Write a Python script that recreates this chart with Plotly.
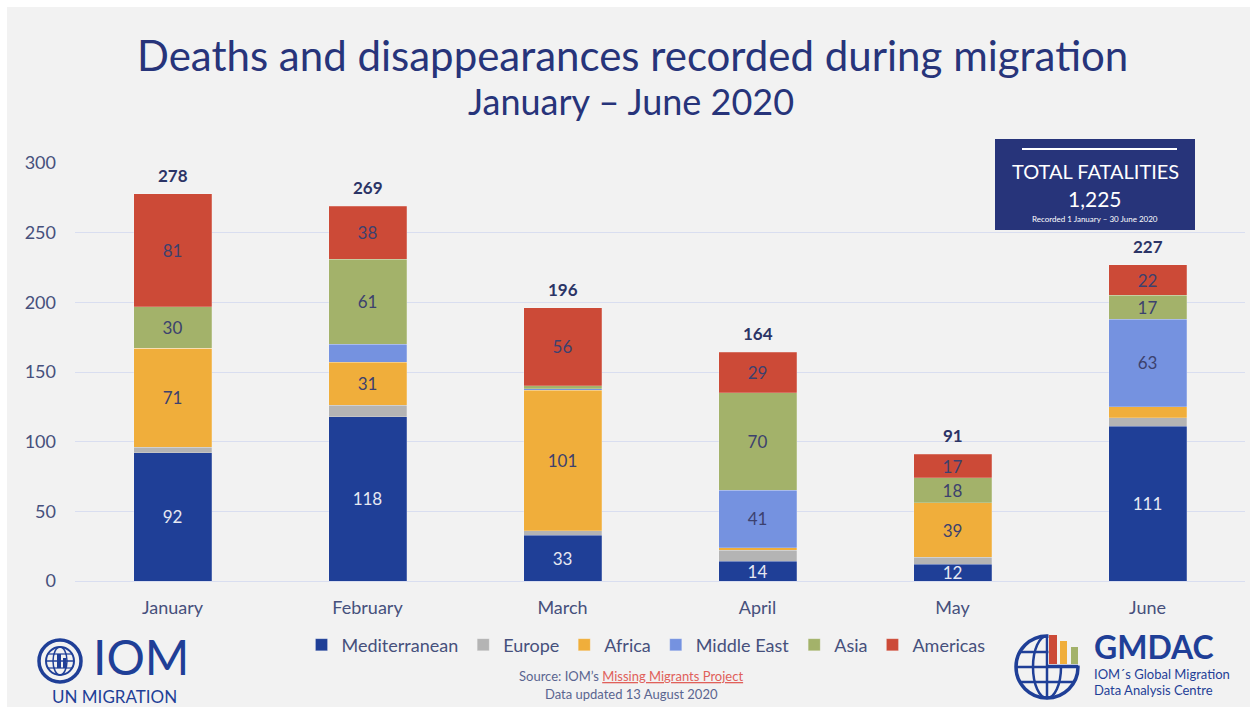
import plotly.graph_objects as go

# ---------------- data ----------------
months = ["January", "February", "March", "April", "May", "June"]
series_names = ["Mediterranean", "Europe", "Africa", "Middle East", "Asia", "Americas"]
mediterranean = [92, 118, 33, 14, 12, 111]
europe = [4, 8, 3, 8, 5, 6]
africa = [71, 31, 101, 2, 39, 8]
middle_east = [0, 13, 1, 41, 0, 63]
asia = [30, 61, 2, 70, 18, 17]
americas = [81, 38, 56, 29, 17, 22]
y_ticks = [0, 50, 100, 150, 200, 250, 300]

series_values = [mediterranean, europe, africa, middle_east, asia, americas]
colors = ["#1f3f97", "#b4b4b4", "#f0ae3b", "#7592e0", "#a3b26a", "#cc4a37"]
label_colors = ["#e6e8f2", "#3c416e", "#3c416e", "#3c416e", "#3c416e", "#3c416e"]

totals = [sum(v) for v in zip(*series_values)]
grand_total = sum(totals)

W, H = 1250, 707
L, R, T, B = 75, 5, 163, 126
PW, PH = W - L - R, H - T - B


def px(x):
    return (x - L) / PW


def py(y):
    return (H - B - y) / PH


FONT = "Lato"
NAVY = "#27347a"
TXT = "#46507c"
LOGO = "#1f3f97"


def note(x, y, text, size, color, xanchor="center", family=FONT):
    return dict(x=px(x), y=py(y), xref="paper", yref="paper", showarrow=False, text=text,
                xanchor=xanchor, yanchor="middle", font=dict(family=family, size=size, color=color))


fig = go.Figure()
for name, vals, col, lcol in zip(series_names, series_values, colors, label_colors):
    texts = [str(v) if (v >= 14 or name == "Mediterranean") else "" for v in vals]
    fig.add_trace(go.Bar(
        name=name, x=months, y=vals,
        marker=dict(color=col, line=dict(color="rgba(255,255,255,0.35)", width=0.6)),
        text=texts, textposition="inside", insidetextanchor="middle", textangle=0,
        constraintext="none", textfont=dict(family=FONT, size=17, color=lcol),
        hoverinfo="x+y+name",
    ))

annotations = []
for m, t in zip(months, totals):
    annotations.append(dict(x=m, y=t, xref="x", yref="y", text="<b>%d</b>" % t, showarrow=False,
                            xanchor="center", yanchor="bottom", yshift=6,
                            font=dict(family=FONT, size=17, color="#2b3466")))

annotations += [
    note(632, 55, "Deaths and disappearances recorded during migration", 42, NAVY),
    note(631, 101, "January – June 2020", 36, NAVY),
    # total box texts
    note(1095, 171, "TOTAL FATALITIES", 20, "white"),
    note(1095, 198, f"{grand_total:,}", 21, "white"),
    note(1095, 219, "Recorded 1 January – 30 June 2020", 8, "white"),
    # source
    note(631, 676, "Source: IOM’s <span style='color:#e0605a'><u>Missing Migrants Project</u></span>", 13, "#5a6590"),
    note(631, 694, "Data updated 13 August 2020", 13, "#5a6590"),
    # logos
    note(141, 656, "IOM", 48, LOGO),
    note(114, 696, "UN MIGRATION", 17, LOGO),
    note(1092, 646, "<b>GMDAC</b>", 32, LOGO, xanchor="left"),
    note(1092, 674, "IOM´s Global Migration", 13, LOGO, xanchor="left"),
    note(1092, 690, "Data Analysis Centre", 13, LOGO, xanchor="left"),
]


def rect(x0, y0, x1, y1, fill, layer="above"):
    return dict(type="rect", xref="paper", yref="paper", x0=px(x0), x1=px(x1), y0=py(y0), y1=py(y1),
                fillcolor=fill, line=dict(width=0), layer=layer)


def line(x0, y0, x1, y1, color, width):
    return dict(type="line", xref="paper", yref="paper", x0=px(x0), x1=px(x1), y0=py(y0), y1=py(y1),
                line=dict(color=color, width=width))


def circle(cx, cy, rx, ry, color, width):
    return dict(type="circle", xref="paper", yref="paper", x0=px(cx - rx), x1=px(cx + rx),
                y0=py(cy - ry), y1=py(cy + ry), line=dict(color=color, width=width))


shapes = [
    rect(7, 7, W + 5, H + 5, "#f2f2f2", layer="below"),
    rect(995, 139, 1195, 230, NAVY),
    line(1022, 149, 1177, 149, "white", 2),
]

# IOM emblem
cx, cy = 60, 661
shapes += [
    circle(cx, cy, 21, 21, LOGO, 3.5),
    circle(cx, cy, 14, 14, LOGO, 2),
    circle(cx, cy, 7, 14, LOGO, 1.5),
    line(cx - 14, cy, cx + 14, cy, LOGO, 1.5),
    line(cx - 12, cy - 7, cx + 12, cy - 7, LOGO, 1.2),
    line(cx - 12, cy + 7, cx + 12, cy + 7, LOGO, 1.2),
    rect(cx - 3, cy - 7, cx + 1, cy + 7, LOGO),
    rect(cx + 3, cy - 3, cx + 6, cy + 7, LOGO),
]

# GMDAC emblem
gx, gy, gr = 1047, 667, 31
shapes += [
    circle(gx, gy, gr, gr, LOGO, 3.5),
    circle(gx, gy, 14, gr, LOGO, 2.5),
    line(gx, gy - gr, gx, gy + gr, LOGO, 2.5),
    line(gx - gr, gy, gx + gr, gy, LOGO, 2.5),
    line(gx - 27, gy + 15, gx + 27, gy + 15, LOGO, 2.5),
    line(gx - 27, gy - 15, gx + 27, gy - 15, LOGO, 2.5),
    rect(gx + 1.5, gy - 34, gx + 34, gy - 1.5, "#f2f2f2"),
    rect(1049, 635, 1057, 664, "#cc4a37"),
    rect(1060, 641, 1067, 664, "#f0ae3b"),
    rect(1071, 647, 1078, 664, "#a3b26a"),
    line(gx + 1, gy - 1, gx + 31, gy - 1, LOGO, 2.5),
]

fig.update_layout(
    width=W, height=H, autosize=False,
    barmode="stack", bargap=0.6,
    margin=dict(l=L, r=R, t=T, b=B, pad=0),
    paper_bgcolor="white", plot_bgcolor="rgba(0,0,0,0)",
    font=dict(family=FONT, color=TXT),
    xaxis=dict(showgrid=False, showline=False, ticks="", tickfont=dict(family=FONT, size=18, color=TXT),
               ticklabelstandoff=14, fixedrange=True),
    yaxis=dict(range=[0, 300], tickvals=y_ticks, showgrid=True, gridcolor="#d9def0", gridwidth=1,
               zeroline=True, zerolinecolor="#d9def0", zerolinewidth=1, showline=False, ticks="",
               tickfont=dict(family=FONT, size=18, color=TXT), ticklabelstandoff=18, fixedrange=True),
    legend=dict(orientation="h", x=px(646), y=py(645), xanchor="center", yanchor="middle",
                font=dict(family=FONT, size=18, color=TXT), bgcolor="rgba(0,0,0,0)", itemwidth=30,
                traceorder="normal"),
    annotations=annotations, shapes=shapes, showlegend=True,
)

fig.write_html("out.html", config={"displayModeBar": False})
